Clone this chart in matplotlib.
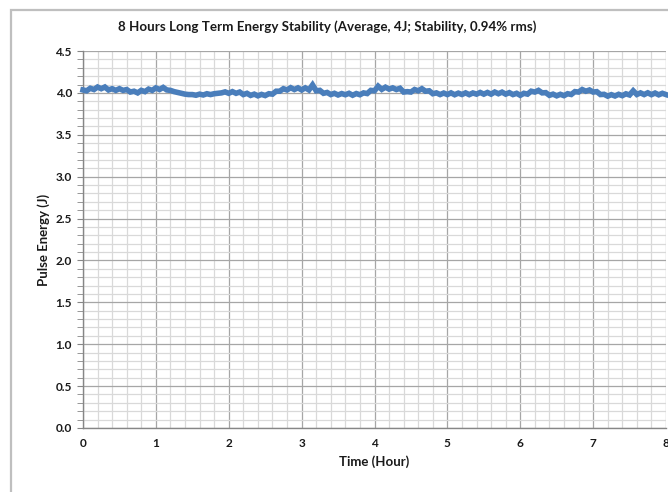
import matplotlib
matplotlib.use("Agg")
import matplotlib.pyplot as plt
import matplotlib.patches as mpatches
from matplotlib.ticker import MultipleLocator

# time axis: one reading every 0.05 hour, 0 .. 8 h
step_hours = 0.05
energy = [
    4.035, 4.025, 4.055, 4.04, 4.07, 4.05, 4.07, 4.035, 4.05, 4.03,
    4.05, 4.03, 4.04, 4.01, 4.02, 4.0, 4.03, 4.015, 4.045, 4.03,
    4.06, 4.04, 4.065, 4.035, 4.03, 4.015, 4.005, 3.995, 3.985, 3.98,
    3.98, 3.972, 3.985, 3.975, 3.99, 3.98, 3.99, 3.995, 4.0, 4.012,
    3.995, 4.015, 3.995, 4.01, 3.98, 3.995, 3.97, 3.985, 3.965, 3.982,
    3.968, 3.99, 3.985, 4.02, 4.02, 4.05, 4.035, 4.062, 4.04, 4.06,
    4.035, 4.06, 4.035, 4.095, 4.025, 4.03, 3.995, 4.005, 3.98, 3.995,
    3.975, 3.992, 3.978, 3.995, 3.972, 3.992, 3.978, 4.0, 3.992, 4.03,
    4.025, 4.08, 4.042, 4.068, 4.045, 4.06, 4.04, 4.055, 4.01, 4.015,
    4.01, 4.04, 4.025, 4.05, 4.02, 4.025, 3.99, 4.0, 3.98, 3.998,
    3.98, 4.0, 3.978, 3.997, 3.981, 4.0, 3.979, 3.999, 3.985, 4.005,
    3.985, 4.005, 3.985, 4.01, 3.99, 4.009, 3.985, 4.003, 3.98, 3.995,
    3.971, 3.995, 3.985, 4.02, 4.01, 4.03, 4.0, 4.003, 3.971, 3.985,
    3.965, 3.983, 3.967, 3.99, 3.981, 4.015, 4.01, 4.04, 4.02, 4.035,
    4.01, 4.015, 3.98, 3.983, 3.961, 3.979, 3.963, 3.983, 3.967, 3.989,
    3.975, 4.025, 3.981, 4.0, 3.98, 4.001, 3.979, 3.998, 3.977, 3.995,
    3.98,
]
hours = [i * step_hours for i in range(len(energy))]

title = "8 Hours Long Term Energy Stability (Average, 4J; Stability, 0.94% rms)"
x_label = "Time (Hour)"
y_label = "Pulse Energy (J)"

plt.rcParams['font.family'] = ['Lato', 'DejaVu Sans']

W, H = 668, 492
fig = plt.figure(figsize=(W / 100, H / 100), dpi=100, facecolor='white')
ax = fig.add_axes([83 / W, 1 - 428 / H, (666 - 83) / W, (428 - 51) / H])

# chart-area border (runs off the right/bottom edge)
fig.patches.append(mpatches.Rectangle((11 / W, -0.1), 1.2, 1 - 10 / H + 0.1,
                                      transform=fig.transFigure, fill=False,
                                      edgecolor='#BFBFBF', linewidth=1.6))

ax.plot(hours, energy, color='#4A7EBB', linewidth=4.0, solid_joinstyle='miter',
        zorder=3, clip_on=False)

ax.set_xlim(0, 8)
ax.set_ylim(0, 4.5)
ax.xaxis.set_major_locator(MultipleLocator(1))
ax.xaxis.set_minor_locator(MultipleLocator(0.2))
ax.yaxis.set_major_locator(MultipleLocator(0.5))
ax.yaxis.set_minor_locator(MultipleLocator(0.1))
ax.yaxis.set_major_formatter(lambda v, p: f"{v:.1f}")

ax.grid(which='major', color='#A6A6A6', linewidth=0.9)
ax.grid(which='minor', color='#D9D9D9', linewidth=0.9)
ax.set_axisbelow(True)

for s in ['top', 'right']:
    ax.spines[s].set_visible(False)
for s in ['left', 'bottom']:
    ax.spines[s].set_color('#868686')
    ax.spines[s].set_linewidth(1.0)

ax.tick_params(axis='y', which='both', direction='out', length=4,
               color='#868686', labelsize=8.5, pad=4)
ax.tick_params(axis='x', which='both', length=0, labelsize=8.5, pad=7)
for lbl in ax.get_xticklabels() + ax.get_yticklabels():
    lbl.set_fontweight('bold')
    lbl.set_color('#1a1a1a')

ax.set_xlabel(x_label, fontsize=9.5, fontweight='bold', color='#1a1a1a', labelpad=5)
ax.set_ylabel(y_label, fontsize=9.5, fontweight='bold', color='#1a1a1a', labelpad=4)
fig.text(327 / W, 1 - 27 / H, title, ha='center', va='center',
         fontsize=9.6, fontweight='bold', color='#1a1a1a')

fig.savefig('out.png', dpi=100)
